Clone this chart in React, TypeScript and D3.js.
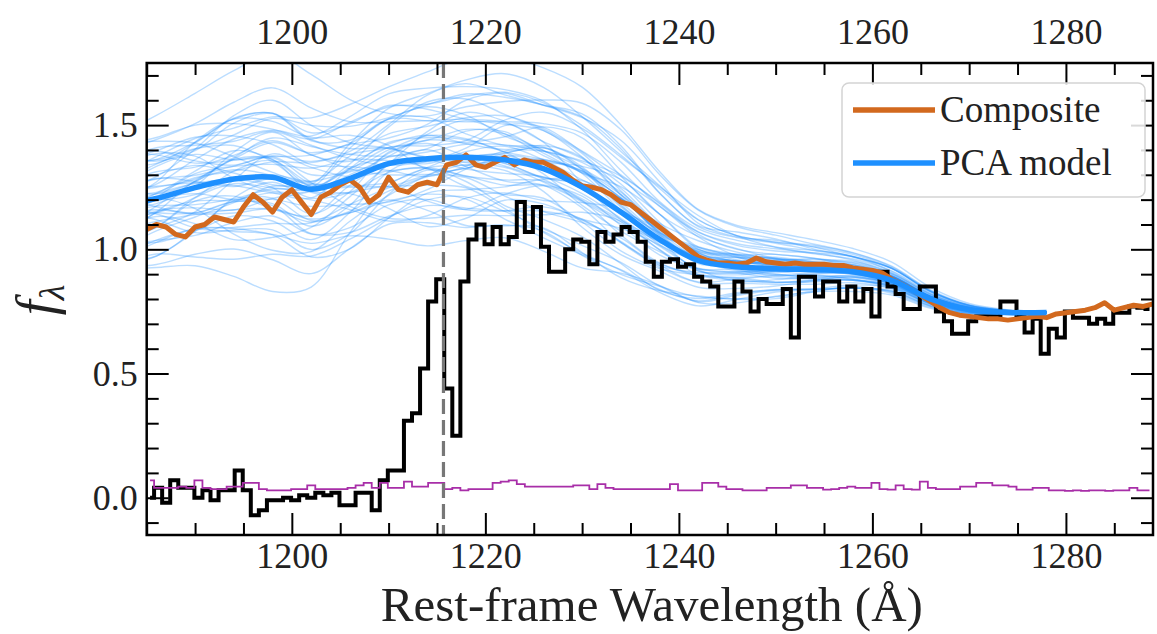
import React, { useEffect, useRef } from 'react';
import * as d3 from 'd3';

// observed spectrum (black histogram), bins of OBS_STEP Angstrom
const OBS_START = 1184.93;
const OBS_STEP = 0.833;
const observedFlux = [
  0.0, 0.04, -0.02, 0.07, 0.04, 0.04, 0.0, 0.03, -0.01, 0.03,
  0.03, 0.11, 0.03, -0.07, -0.05, -0.01, -0.01, 0.0, -0.01, 0.01,
  0.0, 0.02, 0.01, 0.02, -0.03, -0.03, 0.02, 0.02, -0.05, 0.07,
  0.11, 0.11, 0.31, 0.34, 0.52, 0.79, 0.88, 0.44, 0.25, 0.87,
  1.04, 1.1, 1.02, 1.09, 1.02, 1.05, 1.19, 1.07, 1.17, 1.01,
  0.91, 0.91, 1.0, 1.04, 1.03, 0.94, 1.07, 1.03, 1.06, 1.09,
  1.07, 1.03, 0.95, 0.89, 0.95, 0.96, 0.93, 0.94, 0.89, 0.87,
  0.85, 0.77, 0.77, 0.87, 0.83, 0.75, 0.8, 0.78, 0.78, 0.84,
  0.645, 0.89, 0.89, 0.81, 0.87, 0.87, 0.79, 0.85, 0.79, 0.84,
  0.73, 0.91, 0.85, 0.82, 0.76, 0.76, 0.85, 0.85, 0.75, 0.71,
  0.66, 0.66, 0.71, 0.73, 0.73, 0.73, 0.79, 0.79, 0.73, 0.665,
  0.72, 0.58, 0.68, 0.645, 0.75, 0.725, 0.725, 0.7, 0.72, 0.7,
  0.745, 0.745, 0.77, 0.765, 0.76,
];
// noise spectrum (purple), same bins
const errorFlux = [
  0.07, 0.04, 0.04, 0.04, 0.045, 0.04, 0.07, 0.04, 0.035, 0.035,
  0.045, 0.045, 0.06, 0.06, 0.035, 0.03, 0.03, 0.03, 0.035, 0.035,
  0.05, 0.035, 0.035, 0.035, 0.035, 0.04, 0.05, 0.06, 0.04, 0.06,
  0.04, 0.04, 0.065, 0.045, 0.045, 0.06, 0.06, 0.035, 0.04, 0.03,
  0.035, 0.035, 0.035, 0.06, 0.065, 0.07, 0.055, 0.045, 0.045, 0.045,
  0.045, 0.045, 0.045, 0.05, 0.05, 0.035, 0.055, 0.04, 0.035, 0.035,
  0.035, 0.035, 0.035, 0.035, 0.035, 0.055, 0.03, 0.03, 0.03, 0.06,
  0.06, 0.045, 0.035, 0.035, 0.03, 0.03, 0.03, 0.04, 0.04, 0.04,
  0.05, 0.05, 0.04, 0.04, 0.033, 0.035, 0.04, 0.045, 0.04, 0.04,
  0.06, 0.035, 0.033, 0.05, 0.035, 0.033, 0.065, 0.04, 0.035, 0.035,
  0.035, 0.045, 0.045, 0.06, 0.06, 0.05, 0.05, 0.045, 0.033, 0.033,
  0.04, 0.04, 0.03, 0.03, 0.028, 0.03, 0.028, 0.03, 0.03, 0.028,
  0.03, 0.03, 0.04, 0.03, 0.03,
];

// composite spectrum (orange), 1 A grid from 1185
const COMP_START = 1185;
const COMP_STEP = 1;
const compositeFlux = [
  1.08, 1.1, 1.09, 1.06, 1.05, 1.09, 1.1, 1.13, 1.12, 1.11,
  1.17, 1.22, 1.19, 1.15, 1.21, 1.24, 1.19, 1.14, 1.21, 1.23,
  1.26, 1.28, 1.25, 1.19, 1.22, 1.29, 1.24, 1.23, 1.26, 1.27,
  1.26, 1.34, 1.35, 1.38, 1.34, 1.33, 1.35, 1.37, 1.34, 1.36,
  1.35, 1.35, 1.33, 1.31, 1.28, 1.255, 1.25, 1.24, 1.22, 1.19,
  1.18, 1.15, 1.12, 1.09, 1.06, 1.03, 1.0, 0.97, 0.955, 0.945,
  0.945, 0.94, 0.945, 0.965, 0.95, 0.945, 0.94, 0.945, 0.94, 0.94,
  0.94, 0.935, 0.935, 0.925, 0.92, 0.915, 0.905, 0.88, 0.86, 0.84,
  0.815, 0.79, 0.765, 0.745, 0.735, 0.73, 0.725, 0.72, 0.72, 0.715,
  0.72, 0.725, 0.73, 0.725, 0.74, 0.745, 0.75, 0.755, 0.765, 0.785,
  0.755, 0.765, 0.775, 0.77, 0.78,
];

// PCA model: knots, mean prediction and the components used for the draws
const pcaWave = [
  1182, 1186, 1190, 1194, 1198, 1202, 1206, 1210, 1214, 1218, 1222, 1226, 1230,
  1234, 1238, 1242, 1246, 1250, 1254, 1258, 1262, 1266, 1270, 1274, 1278,
];
const pcaMean = [
  1.17, 1.205, 1.248, 1.283, 1.29, 1.242, 1.285, 1.345, 1.365, 1.37, 1.36, 1.325, 1.25,
  1.15, 1.04, 0.955, 0.93, 0.922, 0.918, 0.91, 0.875, 0.8, 0.758, 0.746, 0.746,
];
const pcaComponents = [
  [0.17, 0.17, 0.18, 0.19, 0.2, 0.2, 0.19, 0.18, 0.17, 0.17, 0.16, 0.15, 0.14, 0.12, 0.1, 0.085, 0.07, 0.06, 0.05, 0.04, 0.03, 0.02, 0.01, 0.005, 0.002],
  [0.1, 0.08, 0.05, 0.02, -0.01, -0.04, -0.06, -0.07, -0.07, -0.06, -0.03, 0.0, 0.03, 0.05, 0.05, 0.04, 0.03, 0.02, 0.012, 0.006, 0, 0, 0, 0, 0],
  [-0.01, 0.02, 0.07, 0.12, 0.15, 0.13, 0.06, -0.01, -0.05, -0.05, -0.03, -0.01, 0.01, 0.02, 0.015, 0.01, 0, 0, 0, 0, 0, 0, 0, 0, 0],
  [0, 0, -0.01, -0.03, -0.04, -0.03, 0, 0.04, 0.08, 0.11, 0.14, 0.16, 0.17, 0.15, 0.12, 0.09, 0.07, 0.055, 0.045, 0.035, 0.025, 0.015, 0.008, 0.003, 0],
  [0, 0.04, 0, -0.04, 0, 0.04, 0, -0.04, 0, 0.04, 0, -0.035, 0, 0.03, 0, -0.025, 0, 0.015, 0, -0.01, 0, 0, 0, 0, 0],
  [0.04, 0, -0.04, 0, 0.04, 0, -0.04, 0, 0.04, 0, -0.035, 0, 0.03, 0, -0.025, 0, 0.015, 0, -0.01, 0, 0, 0, 0, 0, 0],
];
const sampleWeights = [
  [0.2, -0.5, 0.3, 0.4, 0.5, -0.3], [-0.6, 0.8, -0.2, -0.5, -0.4, 0.6],
  [1.1, 0.3, 0.9, 0.2, 0.2, 0.4], [-1.2, -0.4, -0.6, -0.3, 0.6, 0.1],
  [0.5, 1.2, 0.1, 0.8, -0.7, -0.2], [-0.3, -1.1, 0.5, -0.9, 0.3, 0.8],
  [0.8, -0.2, -0.8, 1.2, -0.2, -0.6], [-0.9, 0.5, 1.0, 0.3, 0.9, -0.4],
  [0.0, 0.1, -1.1, -0.6, -0.5, 0.9], [1.4, 0.6, 1.6, 0.6, 0.4, 0.2],
  [-1.0, -0.8, -1.6, 0.2, -0.3, -0.5], [0.3, 0.3, 0.2, -1.2, 0.7, 0.3],
  [-0.5, -0.2, 0.4, 1.4, -0.6, -0.8], [0.7, -0.9, -0.3, -0.2, 0.1, 0.7],
  [-0.2, 1.0, 0.7, -0.4, -0.9, 0.0], [0.9, 0.2, -0.5, 0.9, 0.8, 0.5],
  [-1.3, 0.4, 0.2, -0.8, 0.2, -0.7], [0.1, -0.6, 0.9, 0.5, -0.2, 1.0],
  [0.6, 0.9, -0.9, -0.1, 0.6, -0.9], [-0.7, -0.3, -0.1, 1.0, -0.8, 0.4],
  [1.2, -0.7, 0.4, 1.5, 0.3, -0.1], [-0.4, 0.2, -0.7, -1.3, 0.5, 0.2],
  [0.4, 1.4, 0.6, 0.1, 0.0, -0.5], [-0.8, -1.2, 0.8, 0.4, -0.4, 0.6],
  [0.0, 0.5, 0.0, 0.0, 1.0, 0.0], [0.5, -0.1, -1.2, -0.7, -0.1, -0.3],
  [-0.1, -0.7, 1.3, 0.7, 0.4, 0.1], [1.0, 0.0, 0.0, -0.5, -0.5, 0.9],
  [-0.6, 0.7, 0.6, 0.9, 0.7, -0.4], [0.2, -1.4, -0.4, 0.3, -0.7, -0.6],
  [-1.1, 0.1, 0.3, 0.0, 0.1, 0.5], [0.7, 0.5, 0.5, -0.9, -0.3, 0.3],
  [-0.3, -0.5, -0.9, 1.1, 0.9, -0.2], [0.4, 0.0, 1.1, -0.3, -0.6, -0.8],
  [-0.9, 1.1, -0.3, 0.6, 0.2, 0.7], [1.3, 0.4, -0.2, 0.4, -0.1, -0.4],
  [-0.5, -0.9, 0.1, -1.0, 0.6, 0.0], [0.1, 0.3, -0.5, 0.2, -0.9, 0.6],
  [0.8, -0.4, 0.7, 1.0, 0.5, 0.2], [-0.7, 0.6, 1.2, -0.2, -0.2, -0.9],
  [0.3, -1.0, -0.7, 0.7, 0.3, 0.4], [-1.4, 0.0, -0.4, -0.4, -0.5, -0.2],
  [0.6, 0.8, 0.3, -0.6, 0.8, 0.1], [-0.2, -0.3, 0.8, 1.2, -0.4, 0.8],
  [1.0, 1.0, -1.0, 0.0, 0.0, -0.5], [-0.8, -0.6, 0.0, 0.5, 0.4, -0.3],
  [0.2, 0.2, -0.2, -1.1, -0.7, 0.5], [0.0, -0.2, 0.6, 0.3, 0.2, -0.7],
  [-0.4, 1.3, 0.9, -0.6, 0.6, 0.3], [0.9, -1.1, 0.2, 0.8, -0.3, 0.0],
  [-0.6, 0.4, -0.8, 0.1, 0.0, 0.9], [0.5, 0.1, 0.4, 1.3, 0.7, -0.6],
  [-1.0, -0.5, 0.5, -0.7, -0.8, 0.2], [0.7, 0.7, -0.6, -0.4, 0.3, 0.6],
  [-0.1, -0.8, -0.3, 0.6, 0.9, -0.1], [0.4, 0.0, 1.4, -0.1, -0.2, 0.4],
  [-0.4, 0.9, -1.1, 0.4, 0.5, -0.6], [1.1, -0.3, 0.1, -0.2, -0.6, 0.3],
  [-0.7, 0.2, 0.3, 0.9, 0.1, 0.1], [0.1, -0.1, -0.1, -0.3, 0.3, -0.2],
];

const LYA = 1215.67;
const xMajor = [1200, 1220, 1240, 1260, 1280];
const xMinor = [1185, 1190, 1195, 1205, 1210, 1215, 1225, 1230, 1235, 1245, 1250, 1255, 1265, 1270, 1275, 1285];
const yMajor = [0, 0.5, 1.0, 1.5];
const yMinor = [-0.1, 0.1, 0.2, 0.3, 0.4, 0.6, 0.7, 0.8, 0.9, 1.1, 1.2, 1.3, 1.4, 1.6, 1.7];

const FONT = '"Liberation Serif", "DejaVu Serif", serif';

const App = () => {
  const svgRef = useRef(null);

  useEffect(() => {
    const width = 1157;
    const height = 634;
    const margin = { top: 63, right: 4, bottom: 99, left: 146.7 };
    const w = width - margin.left - margin.right;
    const h = height - margin.top - margin.bottom;

    svgRef.current.innerHTML = '';
    const svg = d3.select(svgRef.current).attr('width', width).attr('height', height);
    const g = svg.append('g').attr('transform', `translate(${margin.left},${margin.top})`);

    const x = d3.scaleLinear().domain([1185, 1289]).range([0, w]);
    const y = d3.scaleLinear().domain([-0.15, 1.75]).range([h, 0]);

    g.append('clipPath').attr('id', 'plot-clip')
      .append('rect').attr('width', w).attr('height', h);
    const plot = g.append('g').attr('clip-path', 'url(#plot-clip)');

    const smooth = d3.line().x(d => x(d[0])).y(d => y(d[1])).curve(d3.curveCatmullRom.alpha(0.5));
    const straight = d3.line().x(d => x(d[0])).y(d => y(d[1]));
    const steps = d3.line().x(d => x(d[0])).y(d => y(d[1])).curve(d3.curveStep);

    // PCA draws
    sampleWeights.forEach(wts => {
      const pts = pcaWave.map((lam, k) => [
        lam,
        pcaMean[k] + wts.reduce((s, c, j) => s + c * pcaComponents[j][k], 0),
      ]);
      plot.append('path').attr('d', smooth(pts))
        .attr('fill', 'none').attr('stroke', '#1e90ff')
        .attr('stroke-opacity', 0.3).attr('stroke-width', 1.4);
    });

    const obsPts = observedFlux.map((v, i) => [OBS_START + (i + 0.5) * OBS_STEP, v]);
    plot.append('path').attr('d', steps(obsPts))
      .attr('fill', 'none').attr('stroke', '#000').attr('stroke-width', 4)
      .attr('stroke-linejoin', 'miter');

    const errPts = errorFlux.map((v, i) => [OBS_START + (i + 0.5) * OBS_STEP, v]);
    plot.append('path').attr('d', steps(errPts))
      .attr('fill', 'none').attr('stroke', '#a82ea8').attr('stroke-width', 1.8);

    const compPts = compositeFlux.map((v, i) => [COMP_START + i * COMP_STEP, v]);
    plot.append('path').attr('d', straight(compPts))
      .attr('fill', 'none').attr('stroke', '#d2691e').attr('stroke-width', 5)
      .attr('stroke-linejoin', 'round');

    const meanPts = pcaWave.map((lam, k) => [lam, pcaMean[k]]);
    plot.append('path').attr('d', smooth(meanPts))
      .attr('fill', 'none').attr('stroke', '#1e90ff').attr('stroke-width', 5.5)
      .attr('stroke-linecap', 'butt');

    plot.append('line')
      .attr('x1', x(LYA)).attr('x2', x(LYA)).attr('y1', 0).attr('y2', h)
      .attr('stroke', '#777').attr('stroke-width', 3.2).attr('stroke-dasharray', '15,6');

    // axes, ticks pointing inward on all four sides
    const styleAxis = sel => {
      sel.attr('font-family', FONT).attr('font-size', 36);
      sel.select('.domain').remove();
      sel.selectAll('.tick line').attr('stroke', '#000').attr('stroke-width', 2);
      sel.selectAll('.tick text').attr('fill', '#222');
    };
    const fmtX = d3.format('d');
    const fmtY = d3.format('.1f');

    g.append('g').attr('transform', `translate(0,${h})`)
      .call(d3.axisBottom(x).tickValues(xMajor).tickFormat(fmtX).tickSizeInner(-22).tickSizeOuter(0).tickPadding(7))
      .call(styleAxis);
    g.append('g').attr('transform', `translate(0,${h})`)
      .call(d3.axisBottom(x).tickValues(xMinor).tickFormat('').tickSizeInner(-12).tickSizeOuter(0))
      .call(styleAxis);
    g.append('g')
      .call(d3.axisTop(x).tickValues(xMajor).tickFormat(fmtX).tickSizeInner(-22).tickSizeOuter(0).tickPadding(19))
      .call(styleAxis);
    g.append('g')
      .call(d3.axisTop(x).tickValues(xMinor).tickFormat('').tickSizeInner(-12).tickSizeOuter(0))
      .call(styleAxis);
    g.append('g')
      .call(d3.axisLeft(y).tickValues(yMajor).tickFormat(fmtY).tickSizeInner(-22).tickSizeOuter(0).tickPadding(9))
      .call(styleAxis);
    g.append('g')
      .call(d3.axisLeft(y).tickValues(yMinor).tickFormat('').tickSizeInner(-12).tickSizeOuter(0))
      .call(styleAxis);
    g.append('g').attr('transform', `translate(${w},0)`)
      .call(d3.axisRight(y).tickValues(yMajor).tickFormat('').tickSizeInner(-22).tickSizeOuter(0))
      .call(styleAxis);
    g.append('g').attr('transform', `translate(${w},0)`)
      .call(d3.axisRight(y).tickValues(yMinor).tickFormat('').tickSizeInner(-12).tickSizeOuter(0))
      .call(styleAxis);

    g.append('rect').attr('width', w).attr('height', h)
      .attr('fill', 'none').attr('stroke', '#000').attr('stroke-width', 2.5);

    // axis titles
    svg.append('text')
      .attr('x', margin.left + w / 2 + 2).attr('y', 621)
      .attr('text-anchor', 'middle').attr('font-family', FONT).attr('font-size', 49)
      .attr('fill', '#222')
      .text('Rest-frame Wavelength (Å)');

    const yl = svg.append('text')
      .attr('transform', 'translate(54,300) rotate(-90)')
      .attr('text-anchor', 'middle').attr('font-family', FONT).attr('font-size', 54)
      .attr('fill', '#222');
    yl.append('tspan').attr('font-style', 'italic').text('f');
    yl.append('tspan').attr('font-style', 'italic').attr('font-size', 36).attr('dy', 10).text('λ');

    // legend
    const lg = svg.append('g').attr('transform', 'translate(842,83)');
    lg.append('rect').attr('width', 303).attr('height', 114).attr('rx', 7)
      .attr('fill', '#fff').attr('fill-opacity', 0.85)
      .attr('stroke', '#d4d4d4').attr('stroke-width', 1.5);
    const items = [
      { label: 'Composite', color: '#d2691e', yy: 27 },
      { label: 'PCA model', color: '#1e90ff', yy: 80 },
    ];
    items.forEach(it => {
      lg.append('line').attr('x1', 11).attr('x2', 93).attr('y1', it.yy).attr('y2', it.yy)
        .attr('stroke', it.color).attr('stroke-width', 5.5);
      lg.append('text').attr('x', 98).attr('y', it.yy + 12)
        .attr('font-family', FONT).attr('font-size', 37).attr('fill', '#222')
        .text(it.label);
    });
  }, []);

  return (
    <svg ref={svgRef} style={{ position: 'absolute', left: 0, top: 0 }}></svg>
  );
};

export default App;
